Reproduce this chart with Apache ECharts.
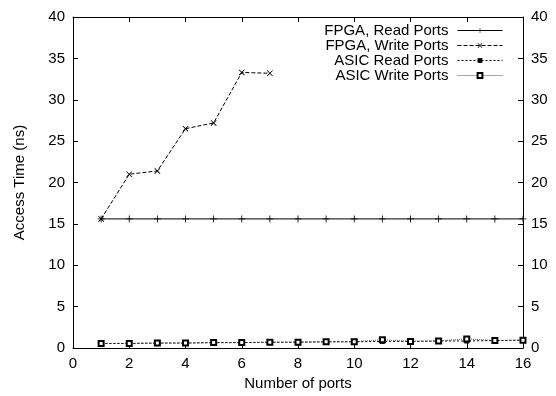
<!DOCTYPE html>
<html>
<head>
    <meta charset="UTF-8">
    <title>Access Time vs Number of ports</title>
    <script src="https://cdn.jsdelivr.net/npm/echarts@6/dist/echarts.min.js"></script>
</head>
<body style="margin:0;background:#fff;">
<div id="chart" style="width:556px;height:396px;"></div>
<script type="text/javascript">
    // number of ports (x)
    var ports = [1, 2, 3, 4, 5, 6, 7, 8, 9, 10, 11, 12, 13, 14, 15, 16];
    // access times in ns
    var fpgaRead = [15.6, 15.6, 15.6, 15.6, 15.6, 15.6, 15.6, 15.6, 15.6, 15.6, 15.6, 15.6, 15.6, 15.6, 15.6, 15.6];
    var fpgaWrite = [15.6, 21.0, 21.4, 26.5, 27.2, 33.3, 33.2];
    var asicRead = [0.55, 0.55, 0.6, 0.6, 0.65, 0.65, 0.7, 0.7, 0.75, 0.75, 0.8, 0.8, 0.85, 0.85, 0.9, 0.95];
    var asicWrite = [0.55, 0.55, 0.6, 0.6, 0.65, 0.65, 0.7, 0.7, 0.75, 0.75, 1.0, 0.8, 0.85, 1.1, 0.9, 0.95];
    var xTicks = [0, 2, 4, 6, 8, 10, 12, 14, 16];
    var yTicks = [0, 5, 10, 15, 20, 25, 30, 35, 40];

    var names = ['FPGA, Read Ports', 'FPGA, Write Ports', 'ASIC Read Ports', 'ASIC Write Ports'];
    var font = 'Liberation Sans, Arial, sans-serif';

    function pairs(vals) {
        return vals.map(function (v, i) { return [ports[i], v]; });
    }

    var plus = 'path://M0,4.4H10V5.6H0ZM4.4,0H5.6V10H4.4Z';
    var cross = 'path://M0,1L1,0L10,9L9,10ZM9,0L10,1L1,10L0,9Z';

    function axisCommon(showLabel, pos) {
        return {
            type: 'value',
            position: pos,
            axisLine: {show: true, onZero: false, lineStyle: {color: '#000', width: 1}},
            axisTick: {show: true, inside: true, length: 5, lineStyle: {color: '#000'}},
            axisLabel: {show: showLabel, color: '#000', fontFamily: font, fontSize: 15, margin: 8},
            splitLine: {show: false}
        };
    }

    var xBottom = axisCommon(true, 'bottom');
    xBottom.min = xTicks[0]; xBottom.max = xTicks[xTicks.length - 1]; xBottom.interval = xTicks[1] - xTicks[0];
    xBottom.name = 'Number of ports';
    xBottom.nameLocation = 'middle';
    xBottom.nameGap = 27;
    xBottom.nameTextStyle = {color: '#000', fontFamily: font, fontSize: 15};
    var xTop = axisCommon(false, 'top');
    xTop.min = xBottom.min; xTop.max = xBottom.max; xTop.interval = xBottom.interval;

    var yLeft = axisCommon(true, 'left');
    yLeft.min = yTicks[0]; yLeft.max = yTicks[yTicks.length - 1]; yLeft.interval = yTicks[1] - yTicks[0];
    yLeft.name = 'Access Time (ns)';
    yLeft.nameLocation = 'middle';
    yLeft.nameGap = 46;
    yLeft.nameTextStyle = {color: '#000', fontFamily: font, fontSize: 15};
    var yRight = axisCommon(true, 'right');
    yRight.min = yLeft.min; yRight.max = yLeft.max; yRight.interval = yLeft.interval;

    var chart = echarts.init(document.getElementById('chart'), null, {renderer: 'canvas'});
    chart.setOption({
        animation: false,
        backgroundColor: '#fff',
        grid: {left: 73, right: 33, top: 17, bottom: 48},
        legend: {
            orient: 'vertical',
            right: 53,
            top: 23,
            padding: 0,
            align: 'right',
            itemWidth: 45,
            itemHeight: 6,
            itemGap: 0,
            lineStyle: {width: 1},
            textStyle: {color: '#000', fontFamily: font, fontSize: 15, lineHeight: 15, padding: [0, 4, 0, 0]},
            data: names
        },
        xAxis: [xBottom, xTop],
        yAxis: [yLeft, yRight],
        series: [{
            name: names[0],
            type: 'line',
            data: pairs(fpgaRead),
            symbol: plus,
            symbolSize: 7,
            itemStyle: {color: '#000'},
            lineStyle: {color: '#000', width: 1, type: 'solid'}
        }, {
            name: names[1],
            type: 'line',
            data: pairs(fpgaWrite),
            symbol: cross,
            symbolSize: 6,
            itemStyle: {color: '#000'},
            lineStyle: {color: '#000', width: 1, type: [4, 2]}
        }, {
            name: names[2],
            type: 'line',
            data: pairs(asicRead),
            symbol: 'rect',
            symbolSize: 5,
            itemStyle: {color: '#000'},
            lineStyle: {color: '#000', width: 1, type: [2, 2]}
        }, {
            name: names[3],
            type: 'line',
            data: pairs(asicWrite),
            symbol: 'emptyRect',
            symbolSize: 5,
            itemStyle: {color: '#000', borderColor: '#000', borderWidth: 1},
            lineStyle: {color: '#555', width: 1, type: [1, 1]}
        }]
    });
</script>
</body>
</html>
